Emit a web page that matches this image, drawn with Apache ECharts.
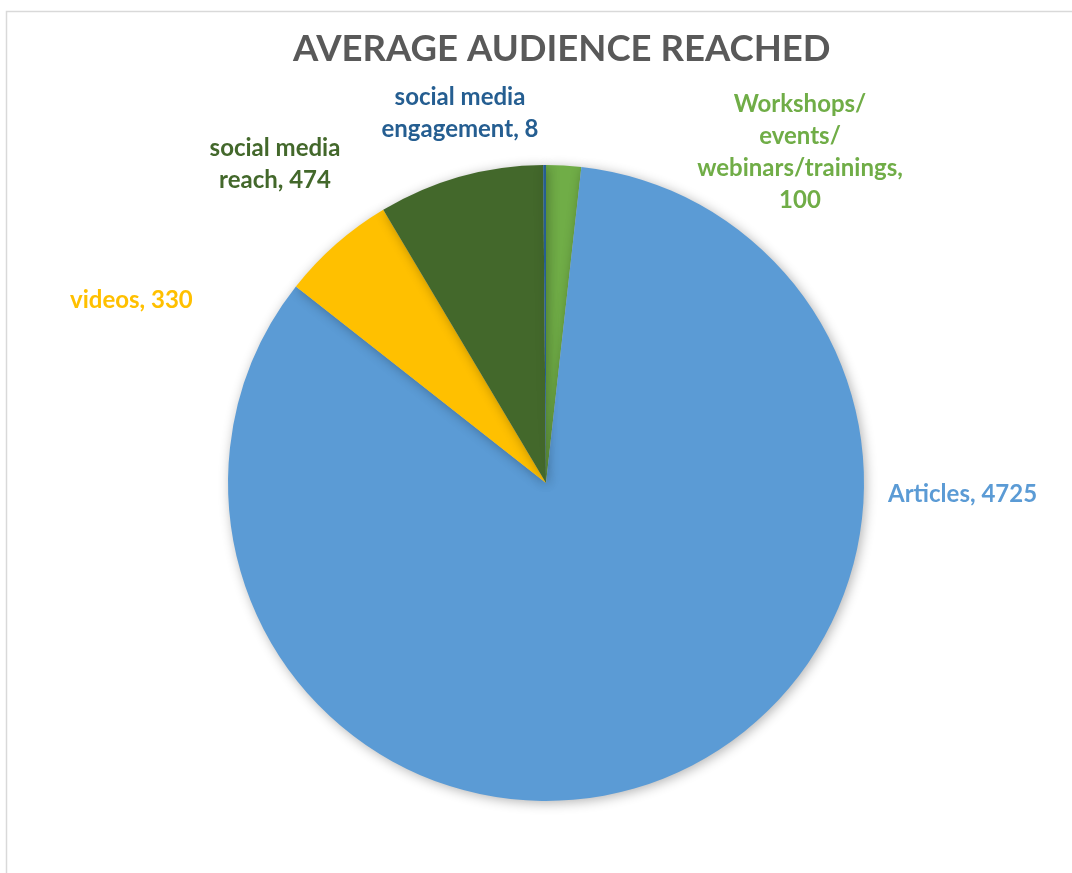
<!DOCTYPE html>
<html>
<head>
<meta charset="utf-8">
<script src="https://cdn.jsdelivr.net/npm/echarts@6/dist/echarts.min.js"></script>
<style>
  html, body { margin: 0; padding: 0; background: #fff; }
  #chart { width: 1072px; height: 873px; }
</style>
</head>
<body>
<div id="chart"></div>
<script>
// 数据
var categories = ['Workshops/ events/ webinars/trainings', 'Articles', 'videos', 'social media reach', 'social media engagement'];
var labelTexts = ['Workshops/\nevents/\nwebinars/trainings,\n100', 'Articles, 4725', 'videos, 330', 'social media\nreach, 474', 'social media\nengagement, 8'];
var values = [100, 4725, 330, 474, 8];
var colors = ['#70AD47', '#5B9BD5', '#FFC000', '#43682B', '#255E91'];
// 标签位置 (x, y, 对齐)
var labelSpots = [
  [800, 152, 'center'],
  [888, 494, 'left'],
  [70, 300, 'left'],
  [275, 164, 'center'],
  [460, 113, 'center']
];

var myChart = echarts.init(document.getElementById('chart'));
myChart.setOption({
  backgroundColor: '#fff',
  title: {
    text: 'AVERAGE AUDIENCE REACHED',
    left: 288,
    top: 26,
    textStyle: { fontFamily: 'Lato', fontWeight: 'bold', fontSize: 36.5, color: '#595959' }
  },
  graphic: [{
    type: 'rect',
    shape: { x: 6.5, y: 11.5, width: 1100, height: 900 },
    style: { fill: 'none', stroke: '#d9d9d9', lineWidth: 1.5 },
    silent: true
  }],
  series: [{
    type: 'pie',
    center: [546, 483],
    radius: 318,
    startAngle: 90,
    clockwise: true,
    animation: false,
    itemStyle: {
      borderWidth: 0,
      shadowBlur: 12,
      shadowColor: 'rgba(0,0,0,0.3)',
      shadowOffsetX: 2,
      shadowOffsetY: 2
    },
    label: {
      show: true,
      formatter: function (p) { return labelTexts[p.dataIndex]; },
      fontFamily: 'Lato',
      fontWeight: 'bold',
      fontSize: 24,
      lineHeight: 32
    },
    labelLine: { show: false },
    labelLayout: function (params) {
      var s = labelSpots[params.dataIndex];
      return { x: s[0], y: s[1], align: s[2], verticalAlign: 'middle' };
    },
    data: categories.map(function (c, i) {
      return {
        name: c,
        value: values[i],
        itemStyle: { color: colors[i] },
        label: { color: colors[i] }
      };
    })
  }]
});
</script>
</body>
</html>
